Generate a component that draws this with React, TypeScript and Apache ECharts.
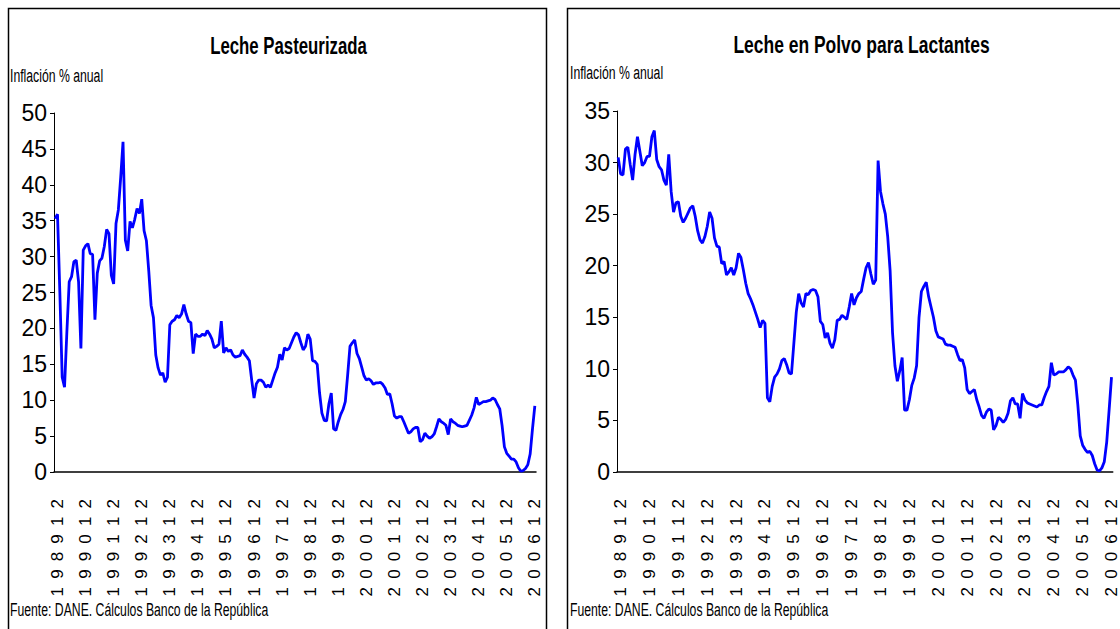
import React, { useEffect, useRef } from "react";
import * as echarts from "echarts";

// Monthly annual inflation (%), Nov 1989 .. Dec 2006
const START_YEAR = 1989;
const START_MONTH = 11;

const LECHE_PASTEURIZADA: number[] = [
  35.3, 35.9, 25.0, 13.2, 11.8, 19.5, 26.5, 27.2, 29.3, 29.5,
  26.5, 17.2, 30.9, 31.5, 31.8, 30.4, 30.3, 21.2, 27.7, 29.4,
  29.8, 31.4, 33.8, 33.2, 27.4, 26.2, 34.6, 36.5, 41.0, 46.0,
  32.3, 30.8, 34.9, 34.0, 35.2, 36.7, 36.0, 38.0, 33.6, 32.2,
  28.0, 23.2, 21.5, 16.3, 14.5, 13.5, 13.8, 12.5, 13.2, 20.5,
  21.0, 21.2, 21.8, 21.5, 22.0, 23.3, 22.0, 21.0, 20.8, 16.5,
  19.2, 18.9, 18.9, 19.2, 19.0, 19.7, 19.2, 18.5, 17.3, 17.5,
  17.8, 21.0, 16.6, 17.3, 16.8, 17.0, 16.3, 16.0, 16.1, 16.2,
  17.0, 16.4, 16.0, 15.5, 12.8, 10.3, 12.3, 12.8, 12.8, 12.5,
  11.8, 12.1, 11.8, 12.8, 13.8, 14.6, 16.4, 15.6, 17.3, 17.0,
  17.2, 18.0, 18.8, 19.4, 19.1, 18.0, 17.0, 17.5, 19.2, 18.5,
  15.5, 15.4, 15.0, 11.0, 8.2, 7.2, 7.1, 9.5, 11.0, 6.0,
  5.8, 7.0, 8.0, 8.7, 9.8, 13.5, 17.5, 18.0, 18.4, 16.5,
  15.8, 14.6, 13.4, 12.8, 13.0, 12.7, 12.2, 12.4, 12.4, 12.5,
  12.2, 11.7, 10.8, 10.9, 9.5, 7.8, 7.5, 7.7, 7.7, 7.0,
  6.2, 5.4, 5.6, 6.0, 6.2, 6.2, 4.2, 4.5, 5.4, 5.0,
  4.7, 4.9, 5.3, 6.3, 7.4, 7.0, 6.8, 6.5, 5.2, 7.4,
  7.0, 6.8, 6.5, 6.4, 6.3, 6.4, 6.5, 7.2, 7.9, 8.9,
  10.4, 9.4, 9.6, 9.8, 9.8, 9.9, 10.0, 10.3, 10.1, 9.4,
  8.8, 6.5, 3.5, 2.6, 2.2, 1.8, 1.8, 1.4, 0.6, 0.1,
  0.2, 0.5, 1.0, 2.5, 6.0, 9.2,
];

const LECHE_POLVO_LACTANTES: number[] = [
  30.5, 28.9, 28.8, 31.3, 31.5, 29.8, 28.3, 30.8, 32.5, 31.1,
  29.7, 30.0, 30.6, 30.6, 32.5, 33.1, 30.3, 29.6, 29.3, 28.3,
  27.8, 30.8, 27.2, 25.2, 26.1, 26.2, 24.8, 24.2, 24.6, 25.1,
  25.6, 25.8, 24.8, 23.4, 22.5, 22.2, 22.8, 23.8, 25.2, 24.6,
  22.7, 21.9, 21.8, 20.2, 20.4, 19.1, 19.4, 19.8, 19.1, 19.8,
  21.2, 20.8, 19.6, 18.3, 17.3, 16.8, 16.2, 15.5, 14.8, 14.0,
  14.7, 14.4, 7.2, 6.8, 8.3, 9.2, 9.5, 10.0, 10.8, 11.0,
  10.4, 9.6, 9.5, 12.5, 15.5, 17.3, 16.4, 16.0, 17.3, 17.2,
  17.6, 17.7, 17.6, 17.0, 14.6, 14.3, 13.0, 13.5, 12.5, 12.0,
  12.8, 14.7, 14.8, 15.2, 15.0, 14.8, 16.0, 17.3, 16.2, 16.9,
  17.3, 17.5, 18.7, 19.8, 20.3, 19.2, 18.2, 18.6, 30.2, 27.2,
  26.0, 25.0, 22.8, 19.5, 13.5, 10.3, 8.8, 9.8, 11.1, 6.0,
  6.0, 7.0, 8.4, 9.1, 10.3, 15.0, 17.5, 18.0, 18.4, 17.0,
  16.0, 15.0, 13.7, 13.1, 13.0, 12.9, 12.4, 12.3, 12.3, 12.2,
  12.1, 11.4, 10.8, 10.9, 10.1, 8.0, 7.6, 7.8, 8.0, 7.0,
  6.3, 5.5, 5.2, 5.8, 6.1, 6.0, 4.1, 4.5, 5.3, 5.1,
  4.8, 5.1, 5.7, 6.9, 7.2, 6.6, 6.6, 5.2, 7.6, 7.0,
  6.7, 6.6, 6.5, 6.4, 6.3, 6.5, 6.5, 7.2, 7.8, 8.3,
  10.6, 9.4, 9.5, 9.7, 9.7, 9.7, 9.9, 10.2, 10.0, 9.4,
  8.9, 6.5, 3.5, 2.6, 2.2, 1.9, 2.0, 1.6, 0.8, 0.2,
  0.1, 0.4, 1.0, 2.9, 6.0, 9.2,
];

const TITLES = ["Leche Pasteurizada", "Leche en Polvo para Lactantes"];
const Y_LABEL = "Inflación % anual";
const SOURCE = "Fuente: DANE. Cálculos Banco de la República";
const Y_MAX = [50, 35];

const CATEGORIES: string[] = LECHE_PASTEURIZADA.map((_, i) => {
  const t = START_MONTH - 1 + i;
  const y = START_YEAR + Math.floor(t / 12);
  const m = (t % 12) + 1;
  return `${y}${String(m).padStart(2, "0")}`;
});

const FONT = "'Liberation Sans', Arial, Helvetica, sans-serif";

export default function App() {
  const ref = useRef<HTMLDivElement>(null);

  useEffect(() => {
    if (!ref.current) return;
    const chart = echarts.init(ref.current, undefined, { renderer: "svg" });

    const xAxisBase = (gridIndex: number) => ({
      type: "category" as const,
      gridIndex,
      data: CATEGORIES,
      boundaryGap: true,
      axisLine: { show: true, lineStyle: { color: "#000", width: 1.5 } },
      axisTick: { show: false },
      splitLine: { show: false },
      axisLabel: {
        interval: (_idx: number, val: string) => val.endsWith("12"),
        rotate: 90,
        margin: 27,
        fontSize: 17,
        fontFamily: FONT,
        color: "#000",
        formatter: (v: string) => v.split("").join(" \u2009"),
      },
    });

    const yAxisBase = (gridIndex: number, max: number) => ({
      type: "value" as const,
      gridIndex,
      min: 0,
      max,
      interval: 5,
      axisLine: { show: true, lineStyle: { color: "#000", width: 1 } },
      axisTick: { show: true, inside: false, length: 4, lineStyle: { color: "#000" } },
      splitLine: { show: false },
      axisLabel: { fontSize: 23, fontFamily: FONT, color: "#000", margin: 7 },
    });

    const textEl = (text: string, x: number, y: number, size: number, bold: boolean, sx: number, align: string) => ({
      type: "text",
      x,
      y,
      scaleX: sx,
      style: {
        text,
        fontSize: size,
        fontWeight: bold ? "bold" : "normal",
        fontFamily: FONT,
        fill: "#000",
        align,
        verticalAlign: "middle",
      },
    });

    chart.setOption({
      animation: false,
      backgroundColor: "#fff",
      grid: [
        { left: 54, top: 113, width: 482, height: 359 },
        { left: 617, top: 111, width: 503, height: 361 },
      ],
      xAxis: [xAxisBase(0), xAxisBase(1)],
      yAxis: [yAxisBase(0, Y_MAX[0]), yAxisBase(1, Y_MAX[1])],
      series: [
        {
          type: "line",
          xAxisIndex: 0,
          yAxisIndex: 0,
          data: LECHE_PASTEURIZADA,
          symbol: "none",
          lineStyle: { color: "#0000FF", width: 2.8 },
        },
        {
          type: "line",
          xAxisIndex: 1,
          yAxisIndex: 1,
          data: LECHE_POLVO_LACTANTES,
          symbol: "none",
          lineStyle: { color: "#0000FF", width: 2.8 },
        },
      ],
      graphic: [
        {
          type: "rect",
          shape: { x: 8.5, y: 8.5, width: 538, height: 700 },
          style: { fill: "none", stroke: "#000", lineWidth: 1.5 },
          silent: true,
        },
        {
          type: "rect",
          shape: { x: 567.5, y: 8.5, width: 600, height: 700 },
          style: { fill: "none", stroke: "#000", lineWidth: 1.5 },
          silent: true,
        },
        textEl(TITLES[0], 288.5, 46, 23, true, 0.73, "center"),
        textEl(TITLES[1], 861.5, 45, 23, true, 0.76, "center"),
        textEl(Y_LABEL, 10, 76, 18, false, 0.68, "left"),
        textEl(Y_LABEL, 570, 73, 18, false, 0.68, "left"),
        textEl(SOURCE, 10, 610, 18, false, 0.68, "left"),
        textEl(SOURCE, 570, 610, 18, false, 0.68, "left"),
      ],
    });

    return () => chart.dispose();
  }, []);

  return (
    <div
      ref={ref}
      style={{ position: "absolute", left: 0, top: 0, width: 1120, height: 629, background: "#fff" }}
    />
  );
}
